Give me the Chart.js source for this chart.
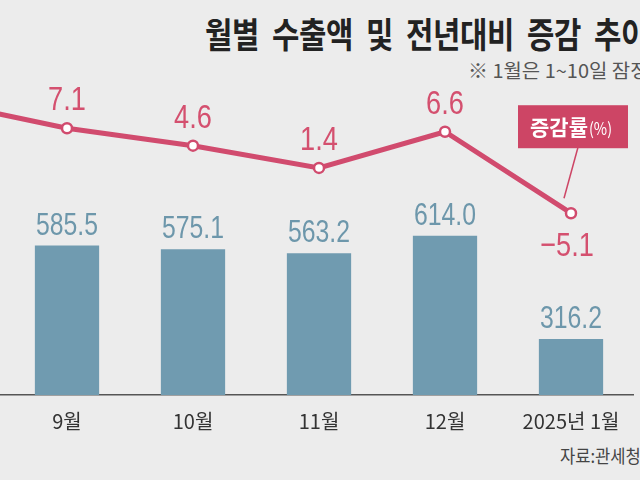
<!DOCTYPE html>
<html>
<head>
<meta charset="utf-8">
<script src="https://cdn.jsdelivr.net/npm/chart.js@4.4.1/dist/chart.umd.min.js"></script>
<style>
  html, body { margin: 0; padding: 0; width: 640px; height: 480px; overflow: hidden; background: #ececec; font-family: "Noto Sans CJK KR", sans-serif; }
  #wrap { position: absolute; left: -122px; top: 0; width: 756px; height: 480px; }
  .title { position: absolute; left: 205px; top: 7px; font-size: 35px; font-weight: bold; color: #222; white-space: nowrap; transform: scaleX(0.85); transform-origin: 0 0; word-spacing: 8px; letter-spacing: -0.5px; }
  .note { position: absolute; left: 468px; top: 56px; font-size: 19px; color: #555; white-space: nowrap; transform: scaleX(1.05); transform-origin: 0 0; }
  .source { position: absolute; left: 560px; top: 442px; font-size: 18px; color: #444; white-space: nowrap; transform: scaleX(0.92); transform-origin: 0 0; }
</style>
</head>
<body>
<div class="title">월별 수출액 및 전년대비 증감 추이</div>
<div class="note">※ 1월은 1~10일 잠정치</div>
<div class="source">자료:관세청</div>
<div id="wrap"><canvas id="chart" width="756" height="480"></canvas></div>
<script>
// 8월 is off the left edge of the picture; only its line segment shows
const months = ["8월", "9월", "10월", "11월", "12월", "2025년 1월"];
const exportValues = [null, 585.5, 575.1, 563.2, 614.0, 316.2];   // 억 달러
const changeRates = [10.9, 7.1, 4.6, 1.4, 6.6, -5.1];              // %

const BAR_COLOR = "#709bb0";
const LINE_COLOR = "#d14b6e";
const NUM_FONT = "'Liberation Sans', Arial, sans-serif";

// squeeze numbers horizontally, the original uses a condensed face
function drawNarrow(ctx, text, x, y, sx) {
  ctx.save();
  ctx.translate(x, y);
  ctx.scale(sx, 1);
  ctx.fillText(text, 0, 0);
  ctx.restore();
}

// value labels + the 증감률(%) tag next to the last point
const labelPlugin = {
  id: "valueLabels",
  afterDatasetsDraw(chart) {
    const ctx = chart.ctx;
    ctx.save();
    ctx.textAlign = "center";

    const barMeta = chart.getDatasetMeta(0);
    ctx.font = "31px " + NUM_FONT;
    ctx.fillStyle = "#6d97ab";
    ctx.textBaseline = "alphabetic";
    barMeta.data.forEach((el, i) => {
      const v = exportValues[i];
      if (v == null) return;
      drawNarrow(ctx, v.toFixed(1), el.x, el.y - 11, 0.8);
    });

    const lineMeta = chart.getDatasetMeta(1);
    ctx.font = "34px " + NUM_FONT;
    ctx.fillStyle = "#d4506f";
    lineMeta.data.forEach((el, i) => {
      const v = changeRates[i];
      if (v < 0) {
        ctx.textBaseline = "top";
        drawNarrow(ctx, "\u2212" + Math.abs(v).toFixed(1), el.x - 4, el.y + 16, 0.8);
      } else {
        ctx.textBaseline = "alphabetic";
        drawNarrow(ctx, v.toFixed(1), el.x, el.y - 18, 0.8);
      }
    });

    // tag box pointing at the last point
    const last = lineMeta.data[lineMeta.data.length - 1];
    const px = last.x, py = last.y;
    ctx.strokeStyle = "#cd4565";
    ctx.lineWidth = 1.5;
    ctx.beginPath();
    ctx.moveTo(px + 7, py - 66);
    ctx.lineTo(px - 7, py - 15);
    ctx.stroke();
    ctx.fillStyle = "#cd4565";
    ctx.fillRect(px - 53, py - 108, 110, 43);
    ctx.fillStyle = "#ffffff";
    ctx.textAlign = "left";
    ctx.textBaseline = "middle";
    ctx.font = "bold 21px 'Noto Sans CJK KR', sans-serif";
    ctx.fillText("증감률", px - 41, py - 86);
    const w = ctx.measureText("증감률").width;
    ctx.font = "17px 'Noto Sans CJK KR', sans-serif";
    drawNarrow(ctx, "(%)", px - 41 + w + 1, py - 85, 0.85);
    ctx.restore();
  }
};

new Chart(document.getElementById("chart"), {
  data: {
    labels: months,
    datasets: [
      {
        type: "bar",
        data: exportValues,
        backgroundColor: BAR_COLOR,
        yAxisID: "yBar",
        categoryPercentage: 1,
        barPercentage: 0.51,
        order: 1,
      },
      {
        type: "line",
        data: changeRates,
        borderColor: LINE_COLOR,
        borderWidth: 5,
        pointRadius: 5,
        pointBorderWidth: 2.5,
        pointBackgroundColor: "#ffffff",
        pointBorderColor: LINE_COLOR,
        tension: 0,
        yAxisID: "yRate",
        order: 0,
      },
    ],
  },
  options: {
    responsive: false,
    animation: false,
    devicePixelRatio: 1,
    layout: { autoPadding: false, padding: { top: 60, bottom: 35, left: 0, right: 0 } },
    plugins: { legend: { display: false }, tooltip: { enabled: false } },
    scales: {
      x: {
        grid: { display: true, drawOnChartArea: false, drawTicks: false },
        border: { display: true, color: "#555", width: 1.5 },
        ticks: {
          color: "#333",
          padding: 14,
          font: { family: "'Noto Sans CJK KR', sans-serif", size: 20 },
        },
        afterFit(scale) { scale.height = 50; },
      },
      yBar: { display: false, min: 155, max: 1120 },
      yRate: { display: false, min: -31.2, max: 16.9 },
    },
  },
  plugins: [labelPlugin],
});
</script>
</body>
</html>
